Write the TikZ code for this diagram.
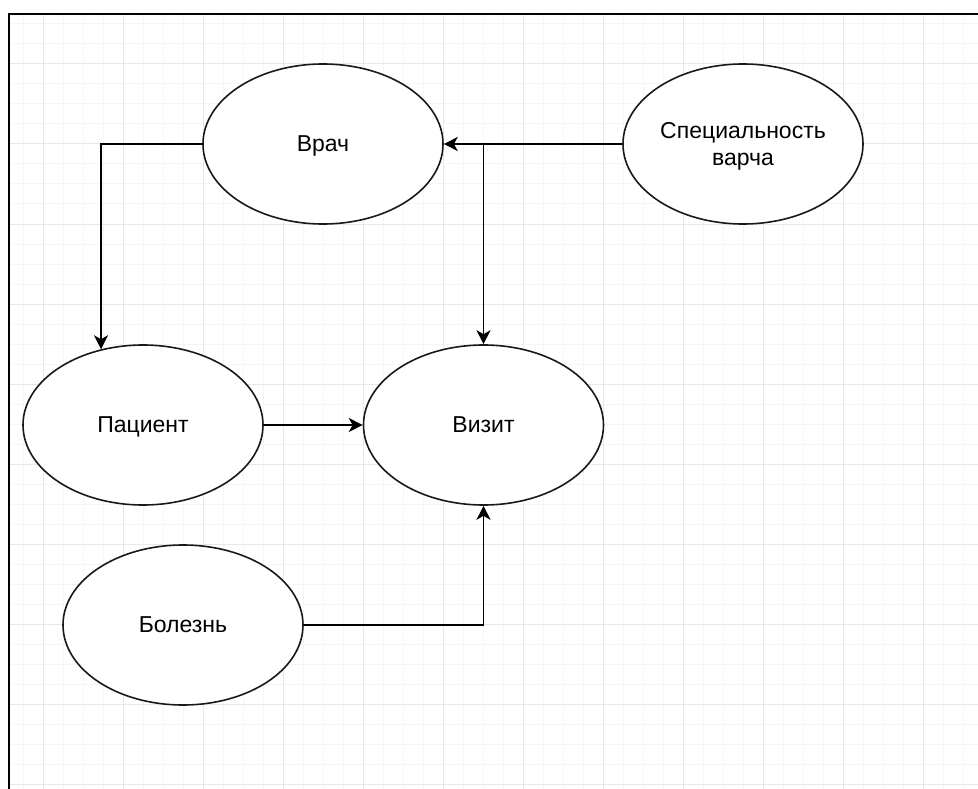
\documentclass[tikz,border=0pt]{standalone}
\usepackage{fontspec}
\setmainfont{Liberation Sans}
\usetikzlibrary{shapes.geometric,arrows.meta}
\tikzset{
  ent/.style={draw=black!90, line width=1.6pt, ellipse, fill=white,
    minimum width=240pt, minimum height=160pt, inner sep=-14pt,
    align=center, text depth=0pt, font=\fontsize{23}{27.5}\selectfont},
  conn/.style={draw=black, line width=1.7pt,
    -{Stealth[length=14pt,width=14pt,inset=4pt]}},
  minorgrid/.style={draw=black!4, line width=1pt},
  majorgrid/.style={draw=black!9, line width=1pt},
}
\begin{document}
\begin{tikzpicture}[x=1pt,y=-1pt]
\useasboundingbox (0,0) rectangle (978,789);
\fill[white] (0,0) rectangle (978,789);
% grid
\foreach \gx in {23,43,...,978} \draw[minorgrid] (\gx,15) -- (\gx,789);
\foreach \gy in {24,44,...,789} \draw[minorgrid] (10,\gy) -- (978,\gy);
\foreach \gx in {43,123,...,978} \draw[majorgrid] (\gx,15) -- (\gx,789);
\foreach \gy in {64,144,...,789} \draw[majorgrid] (10,\gy) -- (978,\gy);
% frame
\draw[line width=2.5pt, black] (9,789) -- (9,14) -- (978,14);
% entities
\node[ent] (vrach) at (323,144) {Врач};
\node[ent] (spec) at (743,144) {Специальность\\варча};
\node[ent] (pac) at (143,425) {Пациент};
\node[ent] (viz) at (483.5,425) {Визит};
\node[ent] (bol) at (183,625) {Болезнь};
% connectors
\draw[conn] (vrach.west) -| (pac.119);
\draw[conn] (spec.west) -- (vrach.east);
\draw[conn] (spec.west -| viz.north) -- (viz.north);
\draw[conn] (pac.east) -- (viz.west);
\draw[conn] (bol.east) -| (viz.south);
\end{tikzpicture}
\end{document}
